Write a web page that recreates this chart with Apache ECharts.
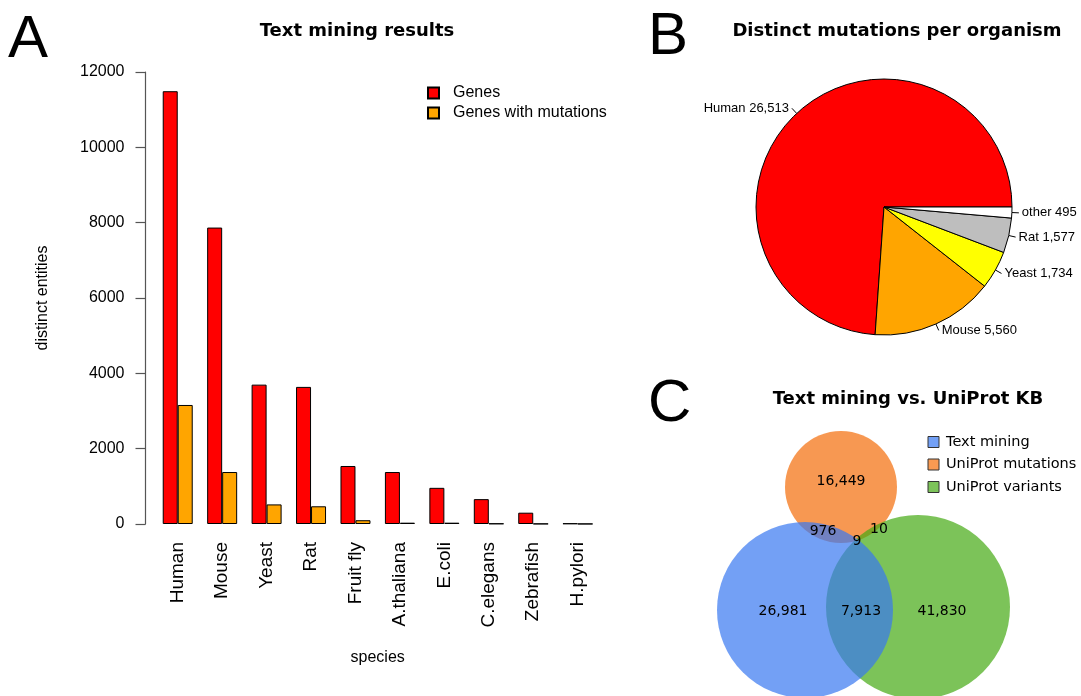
<!DOCTYPE html>
<html>
<head>
<meta charset="utf-8">
<script src="https://cdn.jsdelivr.net/npm/echarts@6/dist/echarts.min.js"></script>
<style>
  html, body { margin: 0; padding: 0; background: #fff; }
  #main { width: 1081px; height: 696px; }
</style>
</head>
<body>
<div id="main"></div>
<script>
// A: text mining results per species
const species = ['Human', 'Mouse', 'Yeast', 'Rat', 'Fruit fly', 'A.thaliana', 'E.coli', 'C.elegans', 'Zebrafish', 'H.pylori'];
const genes = [11490, 7870, 3700, 3640, 1540, 1380, 960, 660, 300, 15];
const genesWithMutations = [3160, 1380, 520, 470, 100, 35, 35, 12, 6, 4];
const yTicks = [0, 2000, 4000, 6000, 8000, 10000, 12000];

// B: distinct mutations per organism
const organisms = ['Human', 'Mouse', 'Yeast', 'Rat', 'other'];
const mutationCounts = [26513, 5560, 1734, 1577, 495];
const pieColors = ['#ff0000', '#ffa500', '#ffff00', '#bebebe', '#ffffff'];

// C: text mining vs. UniProt KB (region counts)
const vennSets = ['Text mining', 'UniProt mutations', 'UniProt variants'];
const vennRegions = ['mutOnly', 'tm_mut', 'all', 'mut_var', 'tmOnly', 'tm_var', 'varOnly'];
const vennCounts = [16449, 976, 9, 10, 26981, 7913, 41830];

// layout of the venn diagram (pixels)
const vennCircles = [
  { cx: 841, cy: 487, r: 56, fill: 'rgba(244,108,8,0.7)', key: '#f89a52' },
  { cx: 918, cy: 607, r: 92, fill: 'rgba(69,169,19,0.7)', key: '#7dc35a' },
  { cx: 805, cy: 610, r: 88, fill: 'rgba(55,119,241,0.7)', key: '#73a0f5' }
];
const vennLabelPos = {
  mutOnly: [841, 481], tm_mut: [823, 531], all: [857, 541], mut_var: [879, 529],
  tmOnly: [783, 611], tm_var: [861, 611], varOnly: [942, 611]
};
const legendOrder = [2, 0, 1]; // circle index for each venn set

function fmt(n) {
  return String(n).replace(/\B(?=(\d{3})+(?!\d))/g, ',');
}

const chart = echarts.init(document.getElementById('main'), null, { renderer: 'canvas' });

const sans = 'Liberation Sans, Arial, sans-serif';
const dejavu = 'DejaVu Sans, sans-serif';

const graphics = [];
// panel letters
[['A', 8, 40], ['B', 648, 37], ['C', 648, 404]].forEach(function (p) {
  graphics.push({
    type: 'text', x: p[1], y: p[2],
    style: { text: p[0], font: '60px ' + sans, fill: '#000', textAlign: 'left', textVerticalAlign: 'middle' }
  });
});
// venn circles
vennCircles.forEach(function (c) {
  graphics.push({ type: 'circle', shape: { cx: c.cx, cy: c.cy, r: c.r }, style: { fill: c.fill } });
});
// venn counts
vennRegions.forEach(function (k, i) {
  const p = vennLabelPos[k];
  graphics.push({
    type: 'text', x: p[0], y: p[1], z: 10,
    style: { text: fmt(vennCounts[i]), font: '14px ' + dejavu, fill: '#000', textAlign: 'center', textVerticalAlign: 'middle' }
  });
});
// venn legend
vennSets.forEach(function (name, i) {
  const y = 442 + i * 22.5;
  graphics.push({
    type: 'rect', shape: { x: 928, y: y - 5.5, width: 11, height: 11 },
    style: { fill: vennCircles[legendOrder[i]].key, stroke: '#333', lineWidth: 1 }
  });
  graphics.push({
    type: 'text', x: 946, y: y,
    style: { text: name, font: '14.5px ' + dejavu, fill: '#000', textAlign: 'left', textVerticalAlign: 'middle' }
  });
});

const titleStyle = { fontFamily: dejavu, fontWeight: 'bold', fontSize: 18, color: '#000' };

const option = {
  animation: false,
  backgroundColor: '#fff',
  title: [
    { text: 'Text mining results', left: 352, top: 17, textAlign: 'center', textStyle: titleStyle },
    { text: 'Distinct mutations per organism', left: 892, top: 17, textAlign: 'center', textStyle: titleStyle },
    { text: 'Text mining vs. UniProt KB', left: 903, top: 385, textAlign: 'center', textStyle: titleStyle }
  ],
  legend: {
    data: ['Genes', 'Genes with mutations'],
    orient: 'vertical',
    left: 422, top: 80,
    itemWidth: 11, itemHeight: 11, itemGap: 4,
    icon: 'rect',
    textStyle: { fontFamily: sans, fontSize: 16, lineHeight: 16, color: '#000', padding: [0, 0, 0, 9] }
  },
  grid: { left: 155.5, top: 72, width: 444.4, height: 452 },
  xAxis: {
    type: 'category',
    data: species,
    axisLine: { show: false },
    axisTick: { show: false },
    axisLabel: { rotate: 90, margin: 18, fontFamily: sans, fontSize: 19, color: '#000' },
    name: 'species',
    nameLocation: 'middle',
    nameGap: 126,
    nameTextStyle: { fontFamily: sans, fontSize: 16, color: '#000' }
  },
  yAxis: {
    type: 'value',
    min: 0, max: 12000, interval: 2000,
    offset: 10,
    axisLine: { show: true, lineStyle: { color: '#555', width: 1.2 } },
    axisTick: { show: true, length: 10, lineStyle: { color: '#555', width: 1.2 } },
    axisLabel: { margin: 21, fontFamily: sans, fontSize: 16, color: '#000',
      formatter: function (v) { return yTicks.indexOf(v) >= 0 ? String(v) : ''; } },
    splitLine: { show: false },
    name: 'distinct entities',
    nameLocation: 'middle',
    nameGap: 95,
    nameTextStyle: { fontFamily: sans, fontSize: 16, color: '#000' }
  },
  graphic: graphics,
  series: [
    {
      name: 'Genes', type: 'bar', data: genes,
      barWidth: 15, barGap: '0%',
      itemStyle: { color: '#ff0000', borderColor: '#000', borderWidth: 1 }
    },
    {
      name: 'Genes with mutations', type: 'bar', data: genesWithMutations,
      barWidth: 15, barGap: '0%',
      itemStyle: { color: '#ffa500', borderColor: '#000', borderWidth: 1 }
    },
    {
      name: 'organisms', type: 'pie',
      center: [884, 207], radius: 128,
      startAngle: 0, clockwise: false,
      avoidLabelOverlap: false,
      data: organisms.map(function (n, i) {
        return { name: n, value: mutationCounts[i], itemStyle: { color: pieColors[i] } };
      }),
      itemStyle: { borderColor: '#000', borderWidth: 1 },
      label: {
        show: true, position: 'outside',
        fontFamily: sans, fontSize: 13, color: '#000',
        distanceToLabelLine: 3,
        formatter: function (p) { return p.name + ' ' + fmt(p.value); }
      },
      labelLine: { show: true, length: 7, length2: 0, lineStyle: { color: '#000', width: 1 } },
      emphasis: { disabled: true }
    }
  ]
};

chart.setOption(option);
</script>
</body>
</html>
